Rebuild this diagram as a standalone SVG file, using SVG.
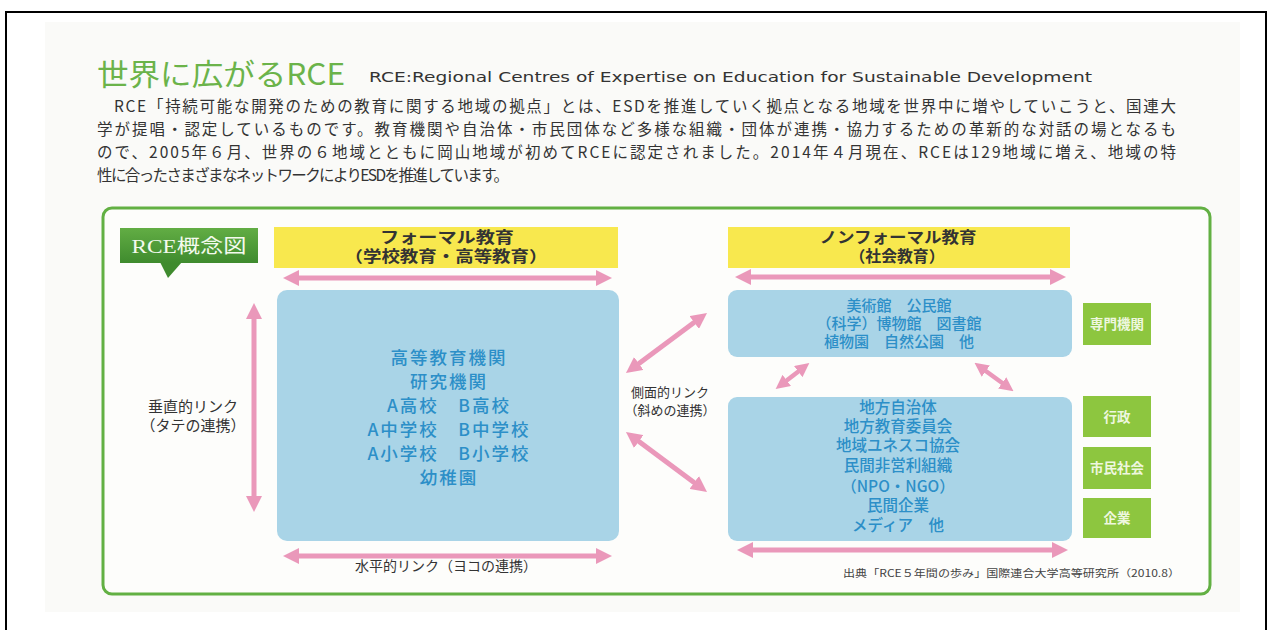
<svg xmlns="http://www.w3.org/2000/svg" width="1271" height="630" viewBox="0 0 1271 630">
<defs>
<marker id="ah" viewBox="0 0 16 16" markerWidth="16" markerHeight="16" refX="4" refY="8" orient="auto-start-reverse" markerUnits="userSpaceOnUse">
<path d="M0,0 L16,8 L0,16 z" fill="#ea98ba"/>
</marker>
<marker id="ahs" viewBox="0 0 16 16" markerWidth="14" markerHeight="14" refX="4" refY="8" orient="auto-start-reverse" markerUnits="userSpaceOnUse">
<path d="M0,0 L16,8 L0,16 z" fill="#ea98ba"/>
</marker>
<linearGradient id="lg" x1="0" y1="0" x2="0" y2="1">
<stop offset="0" stop-color="#62ad44"/>
<stop offset="1" stop-color="#3f8b2e"/>
</linearGradient>
</defs>
<style>
.jp{font-family:"Noto Sans CJK JP","Noto Sans",sans-serif}
.para{font-size:15.5px;fill:#333}
.dark{fill:#333;font-size:15px}
.hdr{font-size:15.5px;font-weight:bold;fill:#333;text-anchor:middle}
.blue{fill:#2c8fc8;font-size:17.5px;font-weight:500;text-anchor:middle;letter-spacing:2px}
.blue2{fill:#2c8fc8;font-size:15.5px;font-weight:500;text-anchor:middle}
.blue3{fill:#2c8fc8;font-size:15px;font-weight:500;text-anchor:middle}
.yel{fill:#f8e84e}
.bx{fill:#a9d4e7}
.gb{fill:#8dc63f}
.gt{fill:#eef7df;font-size:13.5px;font-weight:bold;text-anchor:middle}
.arr{stroke:#ea98ba;stroke-width:5;fill:none;marker-start:url(#ah);marker-end:url(#ah)}
.arrs{stroke:#ea98ba;stroke-width:4.5;fill:none;marker-start:url(#ahs);marker-end:url(#ahs)}
</style>
<rect x="0" y="0" width="1271" height="630" fill="#ffffff"/>
<rect x="45" y="22" width="1195" height="590" fill="#fafaf8"/>
<rect x="6" y="12" width="1260" height="640" fill="none" stroke="#000" stroke-width="2"/>

<g id="title">
<text class="jp" x="97" y="85" font-size="30" fill="#6bb34a" textLength="248" lengthAdjust="spacingAndGlyphs">世界に広がるRCE</text>
<text x="369" y="82" font-family="DejaVu Sans, Verdana, sans-serif" font-size="14" fill="#333" textLength="723" lengthAdjust="spacingAndGlyphs">RCE:Regional Centres of Expertise on Education for Sustainable Development</text>
</g>
<g id="intro" class="jp para">
<text x="114" y="112" textLength="1062" lengthAdjust="spacing">RCE「持続可能な開発のための教育に関する地域の拠点」とは、ESDを推進していく拠点となる地域を世界中に増やしていこうと、国連大</text>
<text x="97" y="135" textLength="1079" lengthAdjust="spacing">学が提唱・認定しているものです。教育機関や自治体・市民団体など多様な組織・団体が連携・協力するための革新的な対話の場となるも</text>
<text x="97" y="158" textLength="1079" lengthAdjust="spacing">ので、2005年６月、世界の６地域とともに岡山地域が初めてRCEに認定されました。2014年４月現在、RCEは129地域に増え、地域の特</text>
<text x="97" y="181" textLength="412" lengthAdjust="spacing">性に合ったさまざまなネットワークによりESDを推進しています。</text>
</g>

<g id="frame">
<rect x="103" y="208" width="1107" height="386" rx="9" fill="#fdfdfb" stroke="#62b043" stroke-width="3"/>
</g>

<g id="label">
<path d="M160,262 L182,262 L168,278 z" fill="#3f8b2e"/>
<rect x="120" y="228" width="138" height="35" fill="url(#lg)"/>
<text x="189" y="253" text-anchor="middle" font-family="Liberation Serif, 'Noto Sans CJK JP', serif" font-size="19" fill="#f4faee" textLength="115" lengthAdjust="spacingAndGlyphs">RCE概念図</text>
</g>

<g id="formal-header">
<rect class="yel" x="274" y="227" width="344" height="41"/>
<text class="jp hdr" x="447" y="243" textLength="134" lengthAdjust="spacingAndGlyphs">フォーマル教育</text>
<text class="jp hdr" x="446" y="262" textLength="203" lengthAdjust="spacingAndGlyphs">（学校教育・高等教育）</text>
</g>
<g id="formal-box">
<rect class="bx" x="277" y="290" width="342" height="251" rx="10"/>
<text class="jp blue" x="449" y="364">高等教育機関</text>
<text class="jp blue" x="449" y="388">研究機関</text>
<text class="jp blue" x="449" y="412">A高校　B高校</text>
<text class="jp blue" x="449" y="436">A中学校　B中学校</text>
<text class="jp blue" x="449" y="460">A小学校　B小学校</text>
<text class="jp blue" x="449" y="484">幼稚園</text>
</g>

<g id="nonformal-header">
<rect class="yel" x="728" y="227" width="342" height="41"/>
<text class="jp hdr" x="898" y="243" textLength="157" lengthAdjust="spacingAndGlyphs">ノンフォーマル教育</text>
<text class="jp hdr" x="897" y="262" textLength="95" lengthAdjust="spacingAndGlyphs">（社会教育）</text>
</g>
<g id="museum-box">
<rect class="bx" x="728" y="290" width="344" height="67" rx="9"/>
<text class="jp blue3" x="899" y="311">美術館　公民館</text>
<text class="jp blue3" x="899" y="329">（科学）博物館　図書館</text>
<text class="jp blue3" x="899" y="347">植物園　自然公園　他</text>
</g>
<g id="local-box">
<rect class="bx" x="728" y="397" width="344" height="144" rx="9"/>
<text class="jp blue2" x="898" y="413">地方自治体</text>
<text class="jp blue2" x="898" y="432">地方教育委員会</text>
<text class="jp blue2" x="898" y="451">地域ユネスコ協会</text>
<text class="jp blue2" x="898" y="471">民間非営利組織</text>
<text class="jp blue2" x="898" y="492">（NPO・NGO）</text>
<text class="jp blue2" x="898" y="511">民間企業</text>
<text class="jp blue2" x="898" y="531">メディア　他</text>
</g>

<g id="side-senmon"><rect class="gb" x="1083" y="303" width="68" height="42"/><text class="jp gt" x="1117" y="329">専門機関</text></g>
<g id="side-gyosei"><rect class="gb" x="1083" y="396" width="68" height="41"/><text class="jp gt" x="1117" y="422">行政</text></g>
<g id="side-shimin"><rect class="gb" x="1083" y="447" width="68" height="42"/><text class="jp gt" x="1117" y="473">市民社会</text></g>
<g id="side-kigyo"><rect class="gb" x="1083" y="498" width="68" height="40"/><text class="jp gt" x="1117" y="523">企業</text></g>

<g id="connectors">
<line class="arr" x1="295" y1="278" x2="600" y2="278"/>
<line class="arr" x1="295" y1="556" x2="600" y2="556"/>
<line class="arr" x1="254" y1="315" x2="254" y2="500"/>
<line class="arr" x1="747" y1="277" x2="1054" y2="277"/>
<line class="arr" x1="749" y1="550" x2="1056" y2="550"/>
<line class="arr" x1="635.6" y1="365.9" x2="697.4" y2="320.1"/>
<line class="arr" x1="635.6" y1="439.1" x2="697.4" y2="484.9"/>
<line class="arrs" x1="784" y1="382.5" x2="801" y2="369.5"/>
<line class="arrs" x1="983" y1="369" x2="1005" y2="385"/>
</g>

<g id="link-labels" class="jp dark">
<text x="193" y="412" text-anchor="middle">垂直的リンク</text>
<text x="193" y="431" text-anchor="middle">（タテの連携）</text>
<text x="670" y="397" text-anchor="middle" font-size="13">側面的リンク</text>
<text x="670" y="415" text-anchor="middle" font-size="13">（斜めの連携）</text>
<text x="446" y="571" text-anchor="middle" font-size="14">水平的リンク（ヨコの連携）</text>
</g>
<g id="source">
<text class="jp" x="843" y="577" font-size="10" fill="#444" textLength="337" lengthAdjust="spacingAndGlyphs">出典「RCE５年間の歩み」国際連合大学高等研究所（2010.8）</text>
</g>
</svg>
